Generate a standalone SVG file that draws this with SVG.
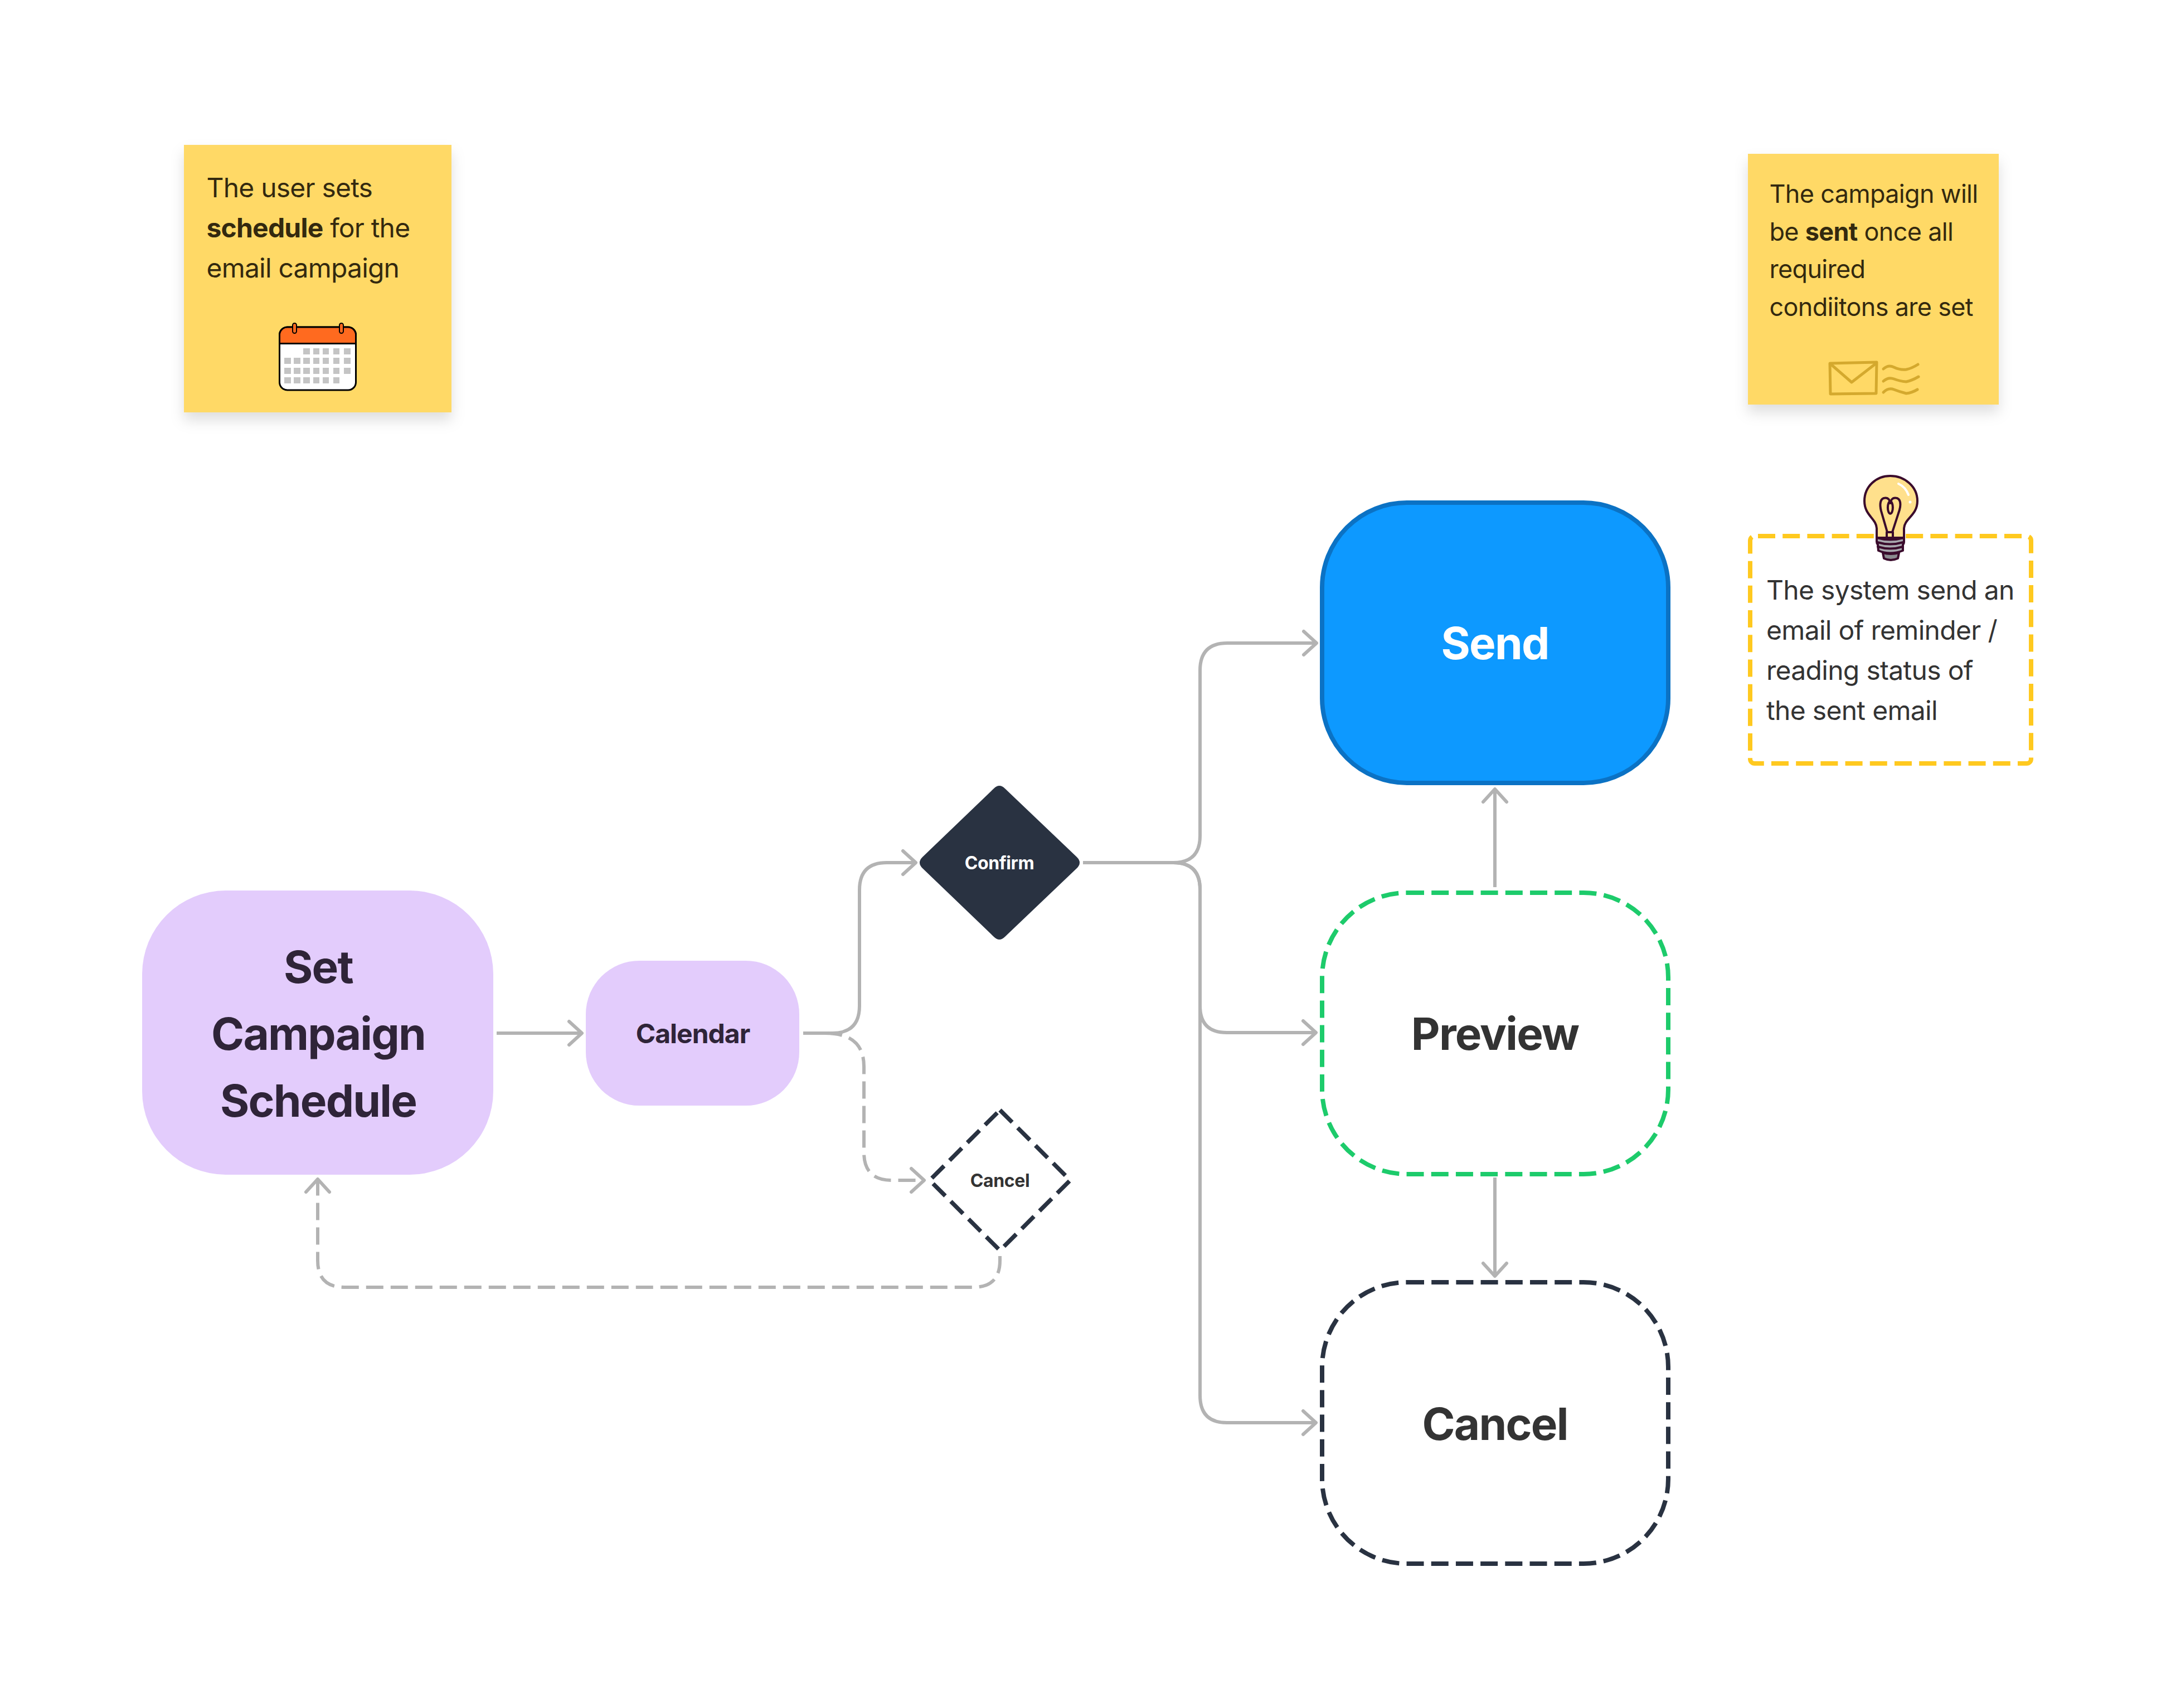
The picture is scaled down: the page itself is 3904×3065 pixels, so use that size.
<svg xmlns="http://www.w3.org/2000/svg" width="3904" height="3065" viewBox="0 0 3904 3065">
<defs>
<style>
text{font-family:Inter,"Noto Sans","Liberation Sans",sans-serif}
.t80{font-size:80px;font-weight:700;text-anchor:middle;letter-spacing:-1.8px}
.t48b{font-size:48px;font-weight:700;text-anchor:middle;letter-spacing:-1px}
.t32{font-size:32px;font-weight:700;text-anchor:middle;letter-spacing:-0.4px}
.sticky{fill:#FFD966;filter:url(#sh)}
.st{font-size:48px;fill:#33290F;letter-spacing:-0.8px}
.st45{font-size:45px;fill:#33290F;letter-spacing:-0.7px}
.nt{font-size:48px;fill:#333;letter-spacing:-0.7px}
.b{font-weight:700}
.c{fill:none;stroke:#B3B3B3;stroke-width:6;stroke-linejoin:round}
.d{stroke-dasharray:31 13}
.h{fill:none;stroke:#B3B3B3;stroke-width:6;stroke-linecap:round;stroke-linejoin:round}
.dd{stroke-width:8;stroke-dasharray:31 13.2;fill:#fff}
.cell{fill:#C4C4C4}
.env{fill:none;stroke:#D4A92E;stroke-width:5;stroke-linecap:round;stroke-linejoin:round}
.bo{stroke:#3A0B2C;stroke-width:4;stroke-linecap:round;stroke-linejoin:round}
</style>
<filter id="sh" x="-15%" y="-15%" width="130%" height="135%"><feDropShadow dx="0" dy="14" stdDeviation="12" flood-color="#000" flood-opacity="0.13"/></filter>
<marker id="a" markerUnits="userSpaceOnUse" markerWidth="60" markerHeight="60" refX="30" refY="30" orient="auto" overflow="visible"><path class="h" d="M7 9L30 30L7 51"/></marker>
</defs>
<rect width="3904" height="3065" fill="#fff"/>
<g id="connectors">
<path class="c" d="M891 1854H1044" marker-end="url(#a)"/>
<path class="c" d="M1441 1854H1493Q1542 1854 1542 1805V1597Q1542 1548 1591 1548H1643" marker-end="url(#a)"/>
<path class="c d" d="M1480 1854Q1550 1854 1550 1914V2068Q1550 2118 1600 2118H1658" marker-end="url(#a)"/>
<path class="c" d="M1943 1548H2105Q2153 1548 2153 1500V1203Q2153 1154 2202 1154H2362" marker-end="url(#a)"/>
<path class="c" d="M1943 1548H2105Q2153 1548 2153 1596V1805Q2153 1853 2201 1853H2361" marker-end="url(#a)"/>
<path class="c" d="M1943 1548H2105Q2153 1548 2153 1596V2504Q2153 2553 2201 2553H2361" marker-end="url(#a)"/>
<path class="c" d="M2682 1592V1416" marker-end="url(#a)"/>
<path class="c" d="M2682 2113V2290" marker-end="url(#a)"/>
<path class="c d" d="M1794 2254V2262Q1794 2310 1746 2310H618Q570 2310 570 2262V2116" marker-end="url(#a)"/>
</g>
<g id="note-schedule">
<rect class="sticky" x="330" y="260" width="480" height="480"/>
<text class="st" x="370.500" y="353.500">The user sets</text>
<text class="st" x="370.500" y="425.500"><tspan class="b">schedule</tspan> for the</text>
<text class="st" x="370.500" y="497.500">email campaign</text>
<g id="calendar-icon">
<rect x="501.500" y="587" width="137" height="113" rx="14" fill="#fff" stroke="#000" stroke-width="3"/>
<path d="M501.500 616.500V601a14 14 0 0 1 14-14h109a14 14 0 0 1 14 14v15.500Z" fill="#FF6A1F" stroke="#000" stroke-width="3"/>
<rect x="525" y="580" width="7" height="18" rx="3.500" fill="#FF6A1F" stroke="#000" stroke-width="2"/>
<rect x="609" y="580" width="7" height="18" rx="3.500" fill="#FF6A1F" stroke="#000" stroke-width="2"/>
<g class="cell">
<rect x="544" y="625" width="12" height="11"/><rect x="562" y="625" width="11" height="11"/><rect x="579" y="625" width="11" height="11"/><rect x="598" y="625" width="11" height="11"/><rect x="617" y="625" width="12" height="11"/>
<rect x="510" y="642" width="12" height="11"/><rect x="527" y="642" width="12" height="11"/><rect x="544" y="642" width="12" height="11"/><rect x="562" y="642" width="11" height="11"/><rect x="579" y="642" width="11" height="11"/><rect x="598" y="642" width="11" height="11"/><rect x="617" y="642" width="12" height="11"/>
<rect x="510" y="660" width="12" height="11"/><rect x="527" y="660" width="12" height="11"/><rect x="544" y="660" width="12" height="11"/><rect x="562" y="660" width="11" height="11"/><rect x="579" y="660" width="11" height="11"/><rect x="598" y="660" width="11" height="11"/><rect x="617" y="660" width="12" height="11"/>
<rect x="510" y="677" width="12" height="11"/><rect x="527" y="677" width="12" height="11"/><rect x="544" y="677" width="12" height="11"/><rect x="562" y="677" width="11" height="11"/><rect x="579" y="677" width="11" height="11"/><rect x="598" y="677" width="11" height="11"/>
</g>
</g>
</g>
<g id="note-sent">
<rect class="sticky" x="3136" y="276" width="450" height="450"/>
<text class="st45" x="3174.500" y="363.500">The campaign will</text>
<text class="st45" x="3174.500" y="431.500">be <tspan class="b">sent</tspan> once all</text>
<text class="st45" x="3174.500" y="499">required</text>
<text class="st45" x="3174.500" y="566.500">condiitons are set</text>
<g id="mail-icon" class="env">
<path d="M3283 652L3367 650L3366 706L3284 707Z"/>
<path d="M3284 653L3322 686L3366 652"/>
<path d="M3379 662Q3388 654 3398 659T3420 663Q3430 661 3441 654"/>
<path d="M3379 684Q3388 676 3398 680T3420 685Q3430 683 3442 676"/>
<path d="M3379 704Q3388 695 3398 699T3420 706Q3430 705 3440 699"/>
</g>
</g>
<g id="note-reminder">
<rect x="3140" y="962" width="504" height="408" rx="8" fill="none" stroke="#FFC91F" stroke-width="8" stroke-dasharray="31 13.2" stroke-dashoffset="-6"/>
<text class="nt" x="3169" y="1075.500">The system send an</text>
<text class="nt" x="3169" y="1147.500">email of reminder /</text>
<text class="nt" x="3169" y="1219.500">reading status of</text>
<text class="nt" x="3169" y="1291.500">the sent email</text>
<g id="bulb-icon">
<path class="bo" fill="#FFE08C" d="M3367 965V948C3366 930 3345 925 3345 899C3345 873 3366 854 3391.400 854C3417 854 3440 873 3440 899C3440 925 3417 930 3416 948V965Z"/>
<path d="M3406 868Q3419 874 3424 888" fill="none" stroke="#fff" stroke-width="4" stroke-linecap="round"/>
<circle cx="3427" cy="901" r="2.500" fill="#fff"/>
<path class="bo" fill="none" stroke-width="3" d="M3386 955L3375 917C3372 905 3373 894 3382 893.500C3388 893 3391 898 3391.400 903C3392 898 3395 893 3401 893.500C3410 894 3412 905 3406 921L3395 955"/>
<ellipse class="bo" cx="3391.400" cy="910.700" rx="4.500" ry="11" fill="none" stroke-width="3"/>
<path class="bo" fill="#FFE08C" stroke-width="3" d="M3385 955H3396V965H3385Z"/>
<path class="bo" fill="#A8A8AE" d="M3367 965Q3391 972 3416 965L3416 972Q3416 976 3414 977L3414 988Q3391 997 3370 988L3369 977Q3367 975 3367 972Z"/>
<path class="bo" fill="none" stroke-width="3" d="M3368 973Q3391 980 3415 973M3369 981Q3391 988 3414 981"/>
<path class="bo" fill="#8B8B90" d="M3378 992L3380 1002Q3392 1008 3405 1002L3407 992Q3392 996 3378 992Z"/>
</g>
</g>
<g id="set-campaign-schedule">
<rect x="255" y="1598" width="630" height="510" rx="150" fill="#E3CCFC"/>
<text class="t80" x="571" y="1764" fill="#2F2438">Set</text>
<text class="t80" x="571" y="1884" fill="#2F2438">Campaign</text>
<text class="t80" x="571" y="2004" fill="#2F2438">Schedule</text>
</g>
<g id="calendar">
<rect x="1051" y="1724" width="383" height="260" rx="96" fill="#E3CCFC"/>
<text class="t48b" x="1243" y="1872" fill="#2F2438">Calendar</text>
</g>
<g id="confirm">
<path d="M1783 1415Q1793 1405 1803 1415L1932 1538Q1942 1548 1932 1558L1803 1681Q1793 1691 1783 1681L1655 1558Q1645 1548 1655 1538Z" fill="#293241"/>
<text class="t32" x="1793" y="1560" fill="#fff">Confirm</text>
</g>
<g id="cancel-decision">
<path d="M1794 1992L1920 2118L1794 2244L1668 2118Z" fill="#fff" stroke="#293241" stroke-width="7.500" stroke-linejoin="round" stroke-dasharray="31 14"/>
<text class="t32" x="1794" y="2130" fill="#333">Cancel</text>
</g>
<g id="send">
<rect x="2372" y="902" width="621" height="503" rx="152" fill="#0D99FF" stroke="#0B72C4" stroke-width="8"/>
<text class="t80" x="2682" y="1183" fill="#fff">Send</text>
</g>
<g id="preview">
<rect class="dd" x="2372" y="1602" width="621" height="505" rx="152" stroke="#1DCB6B"/>
<text class="t80" x="2682" y="1884" fill="#333">Preview</text>
</g>
<g id="cancel">
<rect class="dd" x="2372" y="2301" width="621" height="505" rx="152" stroke="#293241"/>
<text class="t80" x="2682" y="2584" fill="#333">Cancel</text>
</g>
</svg>
